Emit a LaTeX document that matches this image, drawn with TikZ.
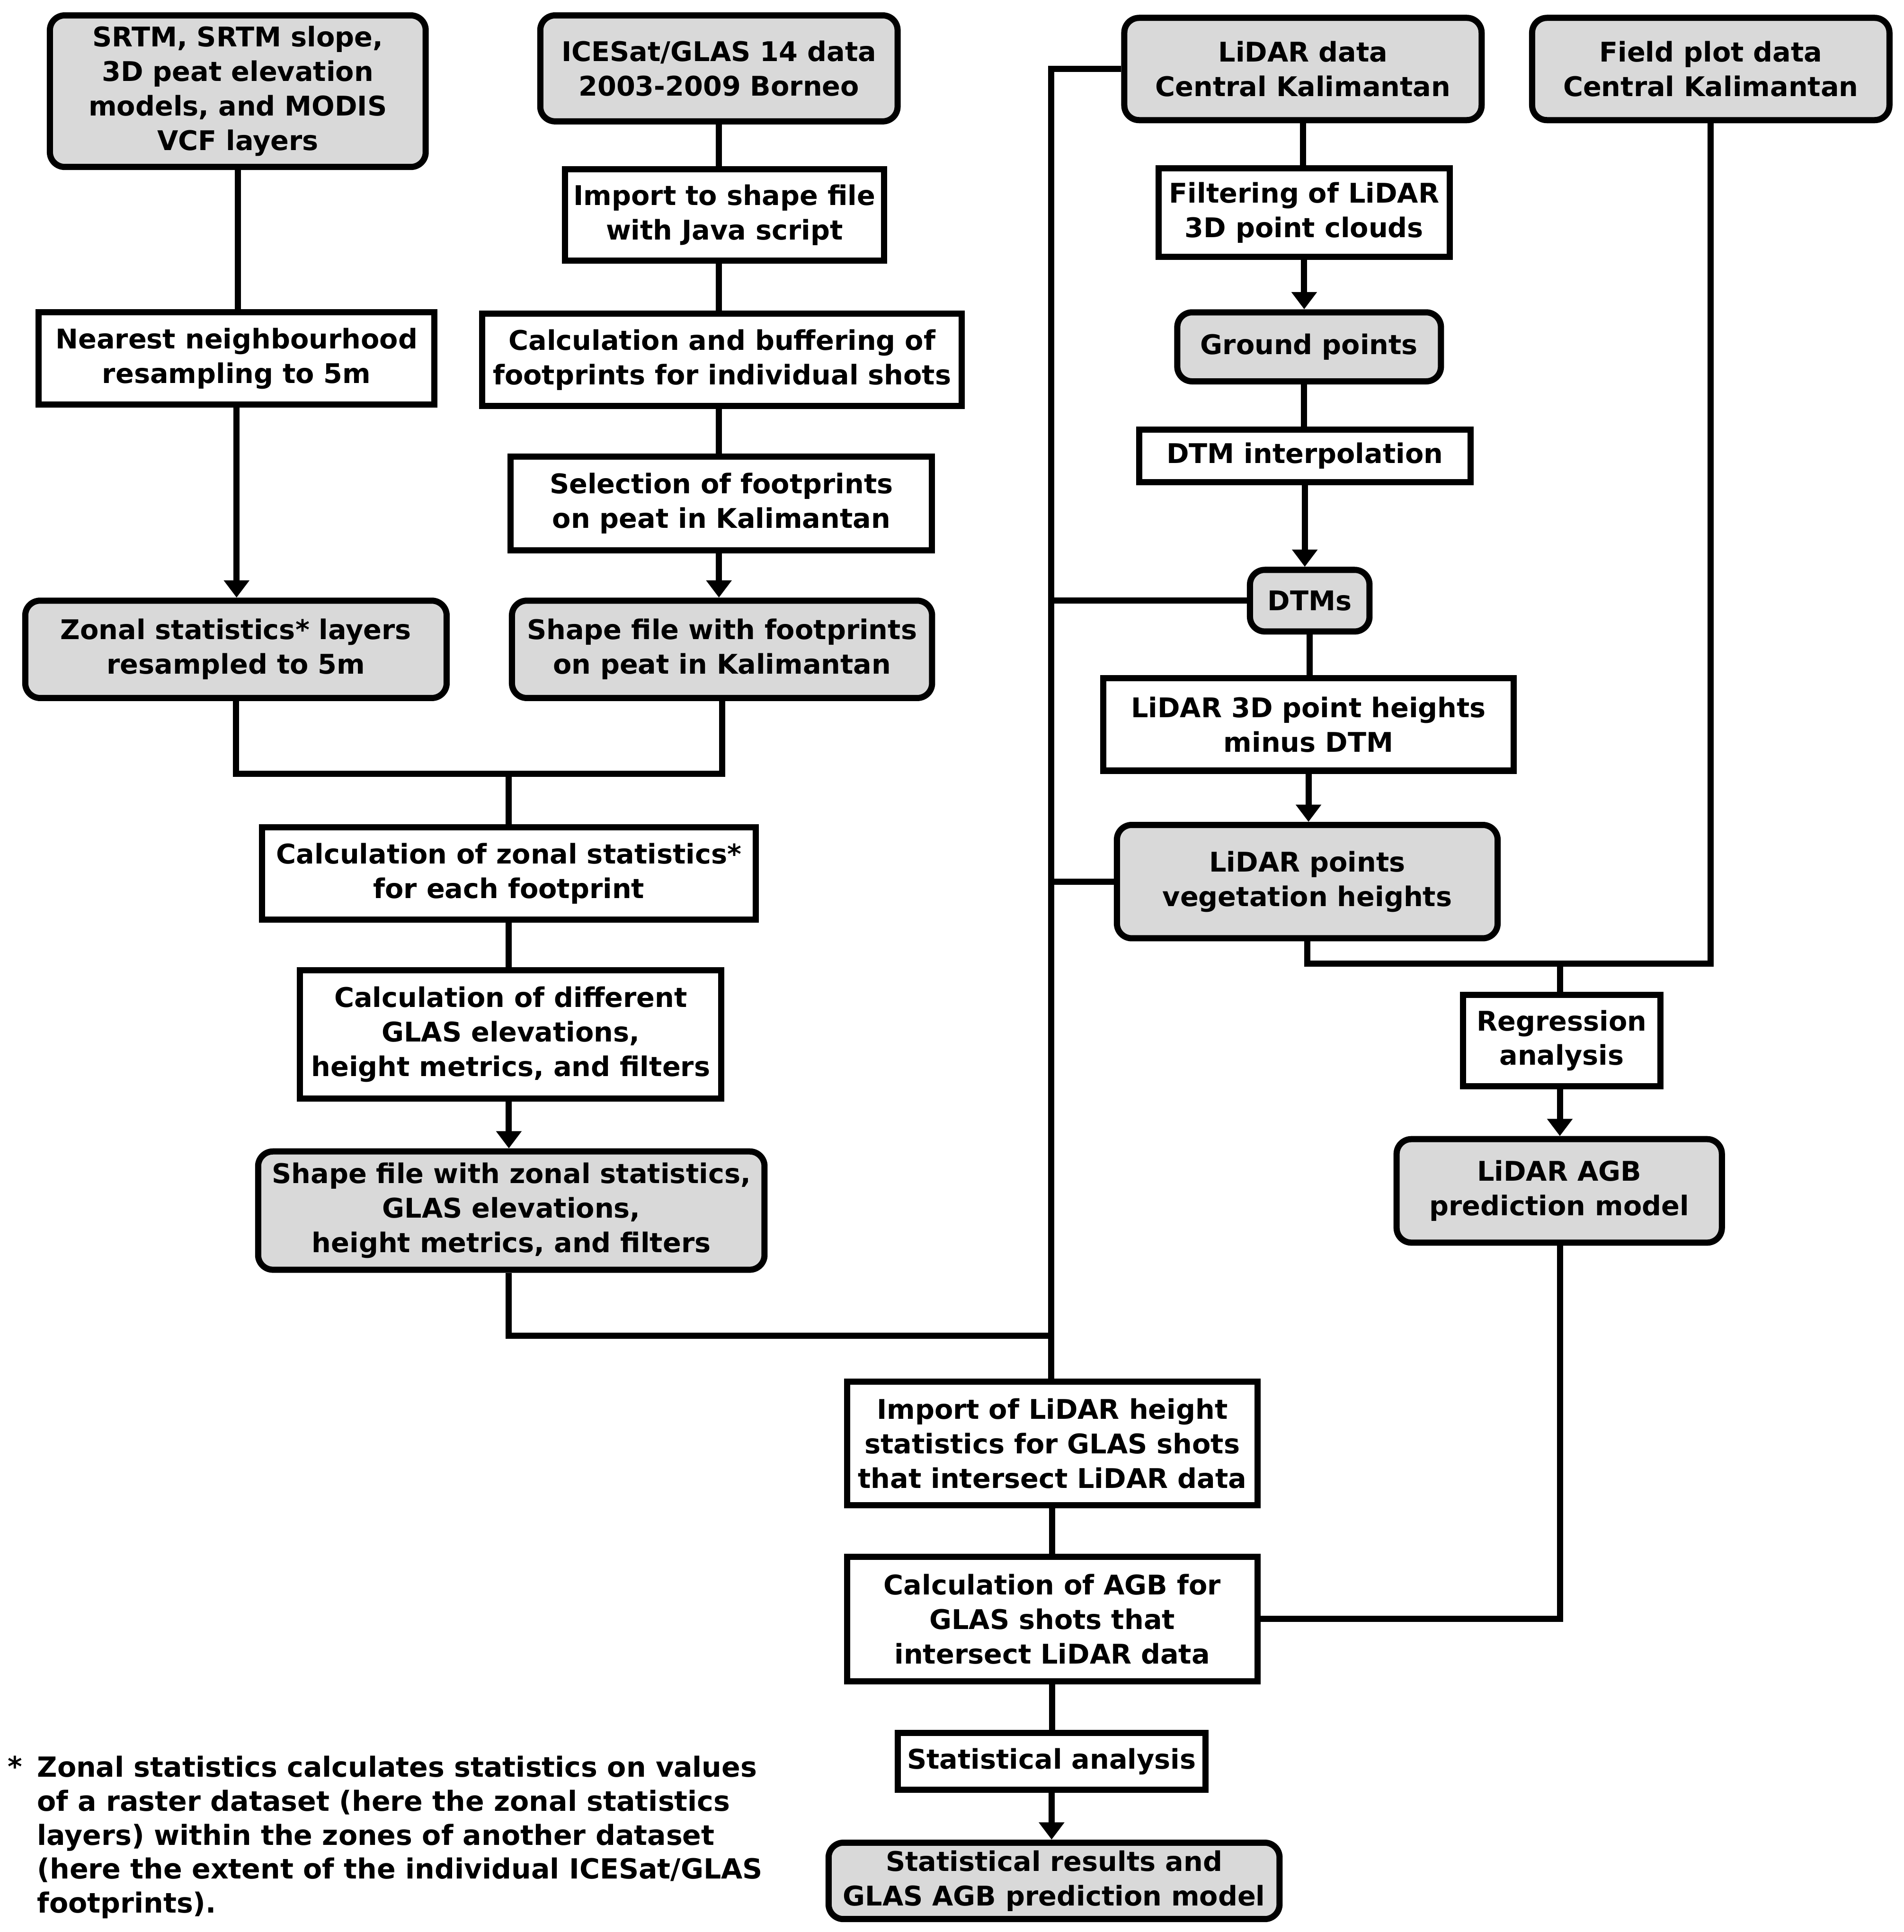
\documentclass[tikz,border=0pt]{standalone}
\usepackage{fontspec}
\setmainfont{DejaVu Sans}
\usetikzlibrary{arrows.meta}
\definecolor{boxgray}{RGB}{217,217,217}
\tikzset{
  base/.style={draw=black, line width=5pt, align=center, inner sep=0pt,
    font=\bfseries\fontsize{22}{28}\selectfont, text=black},
  wbox/.style={base, fill=white},
  gbox/.style={base, fill=boxgray, rounded corners=12pt},
  conn/.style={line width=5pt, draw=black},
  arr/.style={conn, -{Triangle[width=20pt,length=14pt]}},
}
\newcommand{\bx}[7]{\node[#1, minimum width=#5pt-5pt, minimum height=#6pt-5pt] (#2) at (#3,#4) {#7};}
\begin{document}
\begin{tikzpicture}[x=1pt,y=-1pt]
\useasboundingbox[fill=white] (0,0) rectangle (1545,1568);
% boxes
\bx{gbox}{srtm}{193}{74}{310}{128}{SRTM, SRTM slope,\\3D peat elevation\\models, and MODIS\\VCF layers}
\bx{gbox}{ices}{583.5}{55.5}{295}{91}{ICESat/GLAS 14 data\\2003-2009 Borneo}
\bx{gbox}{lidar}{1057.5}{56}{295}{88}{LiDAR data\\Central Kalimantan}
\bx{gbox}{field}{1388.5}{56}{295}{88}{Field plot data\\Central Kalimantan}
\bx{wbox}{import}{588}{174.5}{264}{79}{Import to shape file\\with Java script}
\bx{wbox}{nearest}{192}{291}{326}{80}{Nearest neighbourhood\\resampling to 5m}
\bx{wbox}{buffer}{586}{292}{394}{80}{Calculation and buffering of\\footprints for individual shots}
\bx{wbox}{select}{585.5}{408.5}{347}{81}{Selection of footprints\\on peat in Kalimantan}
\bx{gbox}{zonal}{191.5}{527}{347}{84}{Zonal statistics* layers\\resampled to 5m}
\bx{gbox}{shapefp}{586}{527}{346}{84}{Shape file with footprints\\on peat in Kalimantan}
\bx{wbox}{filter}{1058.5}{172.5}{241}{77}{Filtering of LiDAR\\3D point clouds}
\bx{gbox}{ground}{1062.5}{281.5}{219}{61}{Ground points}
\bx{wbox}{dtmint}{1059}{370}{274}{48}{DTM interpolation}
\bx{gbox}{dtms}{1063}{487.5}{102}{55}{DTMs}
\bx{wbox}{heights}{1062}{588}{338}{80}{LiDAR 3D point heights\\minus DTM}
\bx{gbox}{veg}{1061}{715.5}{314}{97}{LiDAR points\\vegetation heights}
\bx{wbox}{calczonal}{413}{709}{406}{80}{Calculation of zonal statistics*\\for each footprint}
\bx{wbox}{calcdiff}{414.5}{839.5}{347}{109}{Calculation of different\\GLAS elevations,\\height metrics, and filters}
\bx{gbox}{shapezonal}{415}{982.5}{416}{101}{Shape file with zonal statistics,\\GLAS elevations,\\height metrics, and filters}
\bx{wbox}{regr}{1267.5}{844.5}{165}{79}{Regression\\analysis}
\bx{gbox}{agbmodel}{1265.5}{966.5}{269}{89}{LiDAR AGB\\prediction model}
\bx{wbox}{importlidar}{854}{1171.5}{338}{105}{Import of LiDAR height\\statistics for GLAS shots\\that intersect LiDAR data}
\bx{wbox}{calcagb}{854}{1314}{338}{106}{Calculation of AGB for\\GLAS shots that\\intersect LiDAR data}
\bx{wbox}{statan}{853.5}{1429.5}{255}{51}{Statistical analysis}
\bx{gbox}{statres}{855.5}{1526.5}{371}{67}{Statistical results and\\GLAS AGB prediction model}
% junction coordinates
\coordinate (j1) at (413,628);
\coordinate (j2) at (853,1084);
\coordinate (j3) at (1266,782);
% left column
\draw[conn] (srtm.south) -- (srtm.south |- nearest.north);
\draw[arr] (nearest.south) -- (nearest.south |- zonal.north);
\draw[conn] (ices.south) -- (ices.south |- import.north);
\draw[conn] (import.south -| ices.south) -- (ices.south |- buffer.north);
\draw[conn] (buffer.south -| ices.south) -- (ices.south |- select.north);
\draw[arr] (select.south -| ices.south) -- (ices.south |- shapefp.north);
\draw[conn] (zonal.south) |- (shapefp.south |- j1) -- (shapefp.south);
\draw[conn] (j1) -- (j1 |- calczonal.north);
\draw[conn] (j1 |- calczonal.south) -- (j1 |- calcdiff.north);
\draw[arr] (j1 |- calcdiff.south) -- (j1 |- shapezonal.north);
\draw[conn] (j1 |- shapezonal.south) |- (j2);
% main vertical
\draw[conn] (lidar.west) -| (j2 |- importlidar.north);
\draw[conn] (dtms.west) -- (dtms.west -| j2);
\draw[conn] (veg.west) -- (veg.west -| j2);
% lidar column
\draw[conn] (lidar.south) -- (lidar.south |- filter.north);
\draw[arr] (filter.south) -- (filter.south |- ground.north);
\draw[conn] (filter.south |- ground.south) -- (filter.south |- dtmint.north);
\draw[arr] (dtmint.south) -- (dtmint.south |- dtms.north);
\draw[conn] (dtms.south) -- (dtms.south |- heights.north);
\draw[arr] (heights.south) -- (heights.south |- veg.north);
\draw[conn] (veg.south) |- (field.south |- j3) -- (field.south);
\draw[conn] (j3) -- (j3 |- regr.north);
\draw[arr] (j3 |- regr.south) -- (j3 |- agbmodel.north);
\draw[conn] (j3 |- agbmodel.south) |- (calcagb.east);
% bottom column
\draw[conn] (importlidar.south) -- (importlidar.south |- calcagb.north);
\draw[conn] (calcagb.south) -- (calcagb.south |- statan.north);
\draw[arr] (statan.south) -- (statan.south |- statres.north);
% footnote
\node[font=\bfseries\fontsize{22.5}{28}\selectfont, anchor=north west, inner sep=0pt] (star) at (6,1425) {*};
\node[font=\bfseries\fontsize{22.5}{27.5}\selectfont, anchor=north west, inner sep=0pt, align=left] (note) at (30,1425)
  {Zonal statistics calculates statistics on values\\of a raster dataset (here the zonal statistics\\layers) within the zones of another dataset\\(here the extent of the individual ICESat/GLAS\\footprints).};
\end{tikzpicture}
\end{document}
